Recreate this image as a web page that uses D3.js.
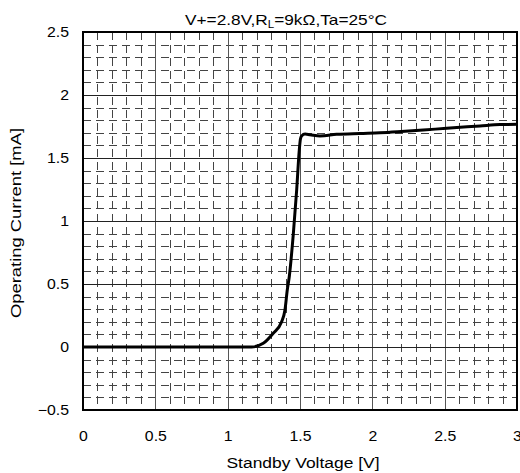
<!DOCTYPE html>
<html><head><meta charset="utf-8">
<script src="https://cdn.jsdelivr.net/npm/d3@7"></script>
<style>body{margin:0;background:#fff}svg{display:block}text{font-family:"Liberation Sans",Arial,sans-serif;fill:#000}</style>
</head><body><svg id="c" width="520" height="473"></svg>
<script>
const voltage = [0, 0.5, 1.0, 1.166, 1.246, 1.315, 1.373, 1.396, 1.412, 1.426, 1.454, 1.477, 1.495, 1.503, 1.511, 1.535, 1.569, 1.638, 1.753, 1.915, 2.053, 2.2, 2.352, 2.514, 2.744, 2.882, 3.0];
const current = [0, 0, 0, 0, 0.029, 0.109, 0.2, 0.294, 0.452, 0.56, 0.9, 1.246, 1.563, 1.65, 1.675, 1.69, 1.685, 1.675, 1.688, 1.695, 1.70, 1.71, 1.722, 1.736, 1.754, 1.765, 1.767];
const xTicks = [0, 0.5, 1, 1.5, 2, 2.5, 3];
const yTicks = [-0.5, 0, 0.5, 1, 1.5, 2, 2.5];
const titleText = "V+=2.8V,R";
const titleSub = "L";
const titleRest = "=9kΩ,Ta=25°C";
const xLabel = "Standby Voltage [V]";
const yLabel = "Operating Current [mA]";

const svg = d3.select("#c");
const L = 83, R = 517, T = 32, B = 410;
const x = d3.scaleLinear().domain([0, 3]).range([L, R]);
const y = d3.scaleLinear().domain([-0.5, 2.5]).range([B, T]);

function stretch(sel, k) {
  sel.each(function () {
    const n = this.getComputedTextLength();
    d3.select(this).attr("textLength", n * k).attr("lengthAdjust", "spacingAndGlyphs");
  });
}
function fit(sel, w) {
  sel.each(function () {
    d3.select(this).attr("textLength", w).attr("lengthAdjust", "spacingAndGlyphs");
  });
}

const g = svg.append("g");
const minorX = d3.range(1, 30).map(i => i / 10).filter(v => Math.abs(v * 2 - Math.round(v * 2)) > 1e-6);
const minorY = d3.range(-4, 25).map(i => i / 10).filter(v => Math.abs(v * 2 - Math.round(v * 2)) > 1e-6);
g.selectAll(".mx").data(minorX).join("line")
  .attr("x1", d => Math.round(x(d)) + 0.5).attr("x2", d => Math.round(x(d)) + 0.5)
  .attr("y1", T).attr("y2", B)
  .attr("stroke", "#444").attr("stroke-width", 1).attr("stroke-dasharray", "8,5");
g.selectAll(".my").data(minorY).join("line")
  .attr("y1", d => Math.round(y(d)) + 0.5).attr("y2", d => Math.round(y(d)) + 0.5)
  .attr("x1", L).attr("x2", R)
  .attr("stroke", "#444").attr("stroke-width", 1).attr("stroke-dasharray", "8,5");
g.selectAll(".gx").data(xTicks.slice(1, -1)).join("line")
  .attr("x1", d => Math.round(x(d)) + 0.5).attr("x2", d => Math.round(x(d)) + 0.5)
  .attr("y1", T).attr("y2", B).attr("stroke", "#555").attr("stroke-width", 1);
g.selectAll(".gy").data(yTicks.slice(1, -1)).join("line")
  .attr("y1", d => Math.round(y(d)) + 0.5).attr("y2", d => Math.round(y(d)) + 0.5)
  .attr("x1", L).attr("x2", R).attr("stroke", "#222").attr("stroke-width", 1);

svg.append("rect").attr("x", L).attr("y", T).attr("width", R - L).attr("height", B - T)
  .attr("fill", "none").attr("stroke", "#000").attr("stroke-width", 2);

const xAxis = svg.append("g").attr("transform", `translate(0,${B})`)
  .call(d3.axisBottom(x).tickValues(xTicks).tickSize(0).tickPadding(21).tickFormat(d3.format("")));
xAxis.select(".domain").remove();
xAxis.selectAll("text").attr("font-size", 14).style("font-family", '"Liberation Sans",Arial,sans-serif').call(stretch, 1.13);
const yAxis = svg.append("g").attr("transform", `translate(${L},0)`)
  .call(d3.axisLeft(y).tickValues(yTicks).tickSize(0).tickPadding(14).tickFormat(d3.format("")));
yAxis.select(".domain").remove();
yAxis.selectAll("text").attr("font-size", 14).style("font-family", '"Liberation Sans",Arial,sans-serif').call(stretch, 1.13);

const pts = voltage.map((v, i) => [v, current[i]]);
svg.append("path").datum(pts)
  .attr("d", d3.line().x(d => x(d[0])).y(d => y(d[1])).curve(d3.curveMonotoneX))
  .attr("fill", "none").attr("stroke", "#000").attr("stroke-width", 3).attr("stroke-linejoin", "round");

const tg = svg.append("text").attr("x", 185).attr("y", 25).attr("font-size", 15);
const t1 = tg.append("tspan").text(titleText);
const t2 = tg.append("tspan").attr("font-size", 10).attr("dy", 3).text(titleSub);
const t3 = tg.append("tspan").attr("dy", -3).text(titleRest);
stretch(t1, 1.15); stretch(t2, 1.15); stretch(t3, 1.15);

svg.append("text").attr("x", 303).attr("y", 468).attr("text-anchor", "middle").attr("font-size", 15.5).text(xLabel).call(fit, 153);
svg.append("text").attr("transform", `translate(21,223) rotate(-90)`).attr("text-anchor", "middle").attr("font-size", 15).text(yLabel).call(fit, 190);
</script></body></html>
